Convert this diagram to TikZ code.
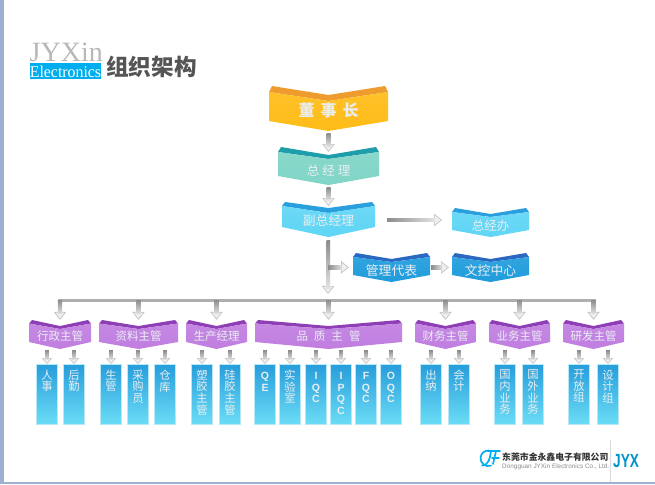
\documentclass[tikz,border=0pt]{standalone}
\usepackage{fontspec}
\setmainfont{Noto Sans CJK SC}
\newfontfamily\latserif{Liberation Serif}
\newfontfamily\latsans{Liberation Sans}
\usetikzlibrary{arrows.meta,calc}
\definecolor{bandOrange}{HTML}{EE9C2E}
\definecolor{bodyOrange}{HTML}{FFBC17}
\definecolor{bandTeal}{HTML}{1E9DAA}
\definecolor{bodyTeal}{HTML}{7FD5C6}
\definecolor{bandSky}{HTML}{2A9FDD}
\definecolor{bodySky}{HTML}{5FD5F5}
\definecolor{bandRoyal}{HTML}{2A68C2}
\definecolor{bodyRoyal}{HTML}{1F9CDC}
\definecolor{bandPurple}{HTML}{8F3FB6}
\definecolor{bodyPurple}{HTML}{C07EE0}
\definecolor{colTop}{HTML}{279DDB}
\definecolor{colBot}{HTML}{6CDDF6}
\definecolor{colEdge}{HTML}{B5E9F8}
\definecolor{softWhite}{HTML}{E9EEF2}
\definecolor{stripBlue}{HTML}{9DB0D0}
\definecolor{logoBlue}{HTML}{00AEEF}
\definecolor{titleGray}{HTML}{555555}
\definecolor{shaftDark}{HTML}{8C8C8C}
\definecolor{shaftLight}{HTML}{E2E2E2}
\definecolor{tipEdge}{HTML}{C4C4C4}
\definecolor{tipFill}{HTML}{EFEFEF}
\tikzset{
  flowdown/.style={line width=3.4pt,color=shaftLight,-{Triangle[open,length=8pt,width=12.5pt,line width=.7pt,color=tipEdge,fill=tipFill]}},
  flowsmall/.style={line width=3pt,color=shaftLight,-{Triangle[open,length=6pt,width=10.5pt,line width=.6pt,color=tipEdge,fill=tipFill]}},
  busline/.style={line width=3pt,color=shaftDark!70!white},
  colbox/.style={draw=colEdge,line width=.8pt,top color=colTop,bottom color=colBot,inner sep=0pt,text=softWhite,font=\fontsize{11.3}{11.6}\selectfont},
  colboxlat/.style={colbox,font=\fontsize{10.5}{11.5}\latsans\bfseries},
  chevtext/.style={inner sep=0pt,text=softWhite},
  logostroke/.style={logoBlue,line width=1.7pt,line cap=round}
}
\newcommand\geo[6]{\def\gl{#1}\def\gmb{#2}\def\gmi{#3}\def\gbl{#4}\def\gbm{#5}\def\gtxt{#6}}
\newcommand\chev[8]{%
  \pgfmathsetmacro\xm{(#2+#3)/2}%
  \pgfmathsetmacro\wid{#3-#2}%
  \pgfmathsetmacro\ym{#4+\gbm/2}%
  \pgfmathsetmacro\txth{\gtxt+3.5}%
  \pgfmathsetmacro\txtd{\gbm-\gtxt-3.5}%
  \fill[#5] (#2,#4+\gl) -- (#2+3,#4) -- (\xm,#4+\gmb) -- (#3-3,#4) -- (#3,#4+\gl) -- (\xm,#4+\gmi) -- cycle;
  \shade[top color=#6!92!white,bottom color=#6] (#2,#4+\gl) -- (\xm,#4+\gmi) -- (#3,#4+\gl) -- (#3,#4+\gbl) -- (\xm,#4+\gbm) -- (#2,#4+\gbl) -- cycle;
  \node[chevtext,minimum width=\wid pt,text height=\txth pt,text depth=\txtd pt,font=#7] (#1) at (\xm,\ym) {#8};
}
\newcommand\flowv[5][flowsmall]{%
  \draw[#1] (#2) -- (#3);
  \shade[top color=shaftDark,bottom color=shaftLight] ($(#2)+(-#4,0)$) rectangle ($(#3)+(#4,-#5)$);
}
\newcommand\flowh[3][flowdown]{%
  \draw[#1] (#2) -- (#3);
  \shade[left color=shaftDark,right color=shaftLight] ($(#2)+(0,-1.7)$) rectangle ($(#3)+(-7,1.7)$);
}
\newcommand\colb[3]{%
  \node[colbox,anchor=north] (#1) at (#2,364) {\parbox[t][60pt][t]{21pt}{\centering\vspace{5.5pt}#3}};
}
\newcommand\colbl[3]{%
  \node[colboxlat,anchor=north] (#1) at (#2,364) {\parbox[t][60pt][t]{21pt}{\centering\vspace{8pt}#3}};
}
\begin{document}
\begin{tikzpicture}[x=1pt,y=-1pt]
\useasboundingbox (0,0) rectangle (655,484);
\fill[white] (0,0) rectangle (655,484);
\fill[stripBlue] (0,0) rectangle (3.5,484);
\fill[stripBlue] (0,482) rectangle (655,484);

% logo
\node[anchor=base west,inner sep=0pt,text depth=0pt,text=black!28,font=\fontsize{28}{28}\latserif] (logoA) at (29.5,62) {JYXin};
\fill[logoBlue] (30,63.5) rectangle (101,79);
\node[anchor=base,inner sep=0pt,text height=11pt,text depth=0pt,xscale=.96,text=white,font=\fontsize{16.5}{16.5}\latserif] (logoB) at (65.5,77.5) {Electronics};
\node[anchor=base west,inner sep=0pt,text=titleGray,font=\fontsize{22.6}{22.6}\bfseries] (title) at (106,75.5) {组织架构};

% upper chevrons
\geo{6}{9}{15}{35}{45}{27}
\chev{chair}{269}{388}{86}{bandOrange}{bodyOrange}{\fontsize{16}{16}\bfseries\color{white}}{董\hspace{6pt}事\hspace{6pt}长}
\geo{5}{8}{12}{29}{38}{25}
\chev{gm}{278}{379}{147}{bandTeal}{bodyTeal}{\fontsize{12.5}{12.5}\selectfont}{总\hspace{3pt}经\hspace{3pt}理}
\geo{4}{6}{11}{25}{35}{20}
\chev{vp}{282}{375}{202}{bandSky}{bodySky}{\fontsize{12.8}{12.8}\selectfont}{副总经理}
\geo{4}{6}{9}{22}{29}{19}
\chev{office}{452}{529}{208}{bandSky}{bodySky}{\fontsize{12.5}{12.5}\selectfont}{总经办}
\chev{rep}{353}{430}{253}{bandRoyal}{bodyRoyal}{\fontsize{12.8}{12.8}\selectfont}{管理代表}
\chev{doc}{452}{529}{253}{bandRoyal}{bodyRoyal}{\fontsize{12.8}{12.8}\selectfont}{文控中心}

% purple chevrons
\geo{3.5}{6}{9}{22}{29}{17}
\def\pf{\fontsize{11.5}{11.5}\selectfont}
\chev{adm}{29}{91}{320}{bandPurple}{bodyPurple}{\pf}{行政主管}
\chev{mat}{99}{178}{320}{bandPurple}{bodyPurple}{\pf}{资料主管}
\chev{prod}{186}{247}{320}{bandPurple}{bodyPurple}{\pf}{生产经理}
\chev{qual}{255}{402}{320}{bandPurple}{bodyPurple}{\pf}{品\hspace{6pt}质\hspace{6pt}主\hspace{6pt}管}
\chev{fin}{415}{476}{320}{bandPurple}{bodyPurple}{\pf}{财务主管}
\chev{biz}{489}{550}{320}{bandPurple}{bodyPurple}{\pf}{业务主管}
\chev{rnd}{563}{624}{320}{bandPurple}{bodyPurple}{\pf}{研发主管}

% columns
\colb{c1}{47}{人\\事}
\colb{c2}{74}{后\\勤}
\colb{c3}{111}{生\\管}
\colb{c4}{138}{采\\购\\员}
\colb{c5}{165}{仓\\库}
\colb{c6}{202}{塑\\胶\\主\\管}
\colb{c7}{230}{硅\\胶\\主\\管}
\colbl{c8}{265}{Q\\E}
\colb{c9}{290}{实\\验\\室}
\colbl{c10}{316}{I\\Q\\C}
\colbl{c11}{341}{I\\P\\Q\\C}
\colbl{c12}{366}{F\\Q\\C}
\colbl{c13}{391}{O\\Q\\C}
\colb{c14}{431}{出\\纳}
\colb{c15}{459}{会\\计}
\colb{c16}{505}{国\\内\\业\\务}
\colb{c17}{533}{国\\外\\业\\务}
\colb{c18}{579}{开\\放\\组}
\colb{c19}{608}{设\\计\\组}

% main connectors
\coordinate (busL) at (58,300);
\coordinate (busR) at (596,300);
\coordinate (trunkEnd) at (328,294);
\coordinate (branch) at (328,267);
\coordinate (vpOut) at (387,220);
\coordinate (officeIn) at (442,220);
\draw[busline] (busL) -- (busR);
\flowv[flowdown]{$(chair.south)+(0,2)$}{gm.north |- 0,152}{2}{6}
\flowv[flowdown]{$(gm.south)+(0,2)$}{vp.north |- 0,206}{2}{6}
\flowv[flowdown]{$(vp.south)+(0,3)$}{trunkEnd}{2}{6}
\flowh{vpOut}{officeIn}
\flowh{branch}{rep.west -| 349,0}
\flowh{$(rep.east)+(1,0)$}{doc.west -| 449,0}

% drops to the managers
\foreach \m in {adm,mat,prod,qual,fin,biz,rnd}{
  \flowv[flowdown]{\m.north |- busL}{\m.north}{2.2}{6}
}
% arrows to the columns
\foreach \m/\c in {adm/c1,adm/c2,mat/c3,mat/c4,mat/c5,prod/c6,prod/c7,qual/c8,qual/c9,qual/c10,qual/c11,qual/c12,qual/c13,fin/c14,fin/c15,biz/c16,biz/c17,rnd/c18,rnd/c19}{
  \flowv{$(\c.north |- \m.south)+(0,1)$}{\c.north}{1.9}{4.5}
}

% footer
\draw[logostroke] (489,450.5) arc[start angle=-85,end angle=-290,radius=7.8];
\draw[logostroke] (488,451) -- (500,451);
\draw[logostroke] (491,451) .. controls (490,458) and (489,465) .. (482,465.5);
\draw[logostroke] (496,451) -- (493,464);
\draw[logostroke] (492,458) -- (499,458);
\node[anchor=base west,inner sep=0pt,text=black!80,font=\fontsize{8.85}{8.85}\bfseries] (cn) at (502,460) {东莞市金永鑫电子有限公司};
\node[anchor=base west,inner sep=0pt,text=black!45,font=\fontsize{6.4}{6.4}\latsans] (en) at (502,468) {Dongguan JYXin Electronics Co., Ltd.};
\draw[black!15,line width=.8pt] (610,440) -- (610,482);
\node[anchor=base west,inner sep=0pt,text=logoBlue!85!black,xscale=.72,font=\fontsize{19}{19}\latsans\bfseries] (jyx) at (613,467) {JYX};
\end{tikzpicture}
\end{document}
